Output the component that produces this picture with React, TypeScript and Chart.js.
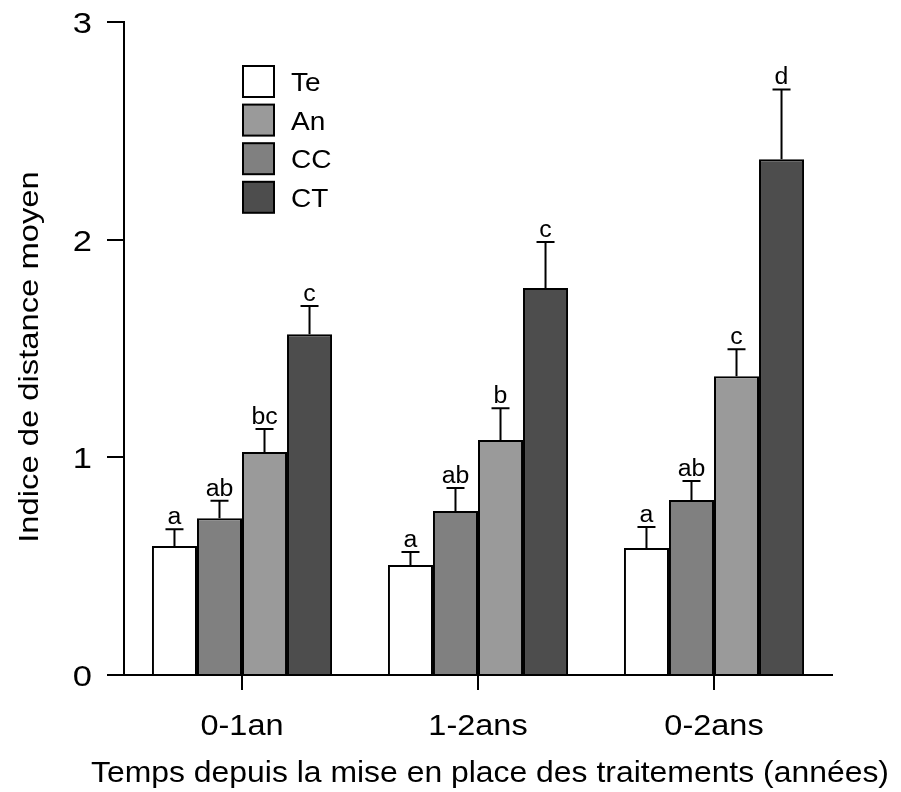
import React, { useEffect, useRef } from "react";
import { Chart, registerables } from "chart.js";

Chart.register(...registerables);

const categories = ["0-1an", "1-2ans", "0-2ans"];
const seriesNames = ["Te", "An", "CC", "CT"];
const teValues = [0.593, 0.505, 0.583];
const anValues = [0.72, 0.753, 0.804];
const ccValues = [1.024, 1.08, 1.373];
const ctValues = [1.566, 1.778, 2.37];
const teErrTop = [0.67, 0.565, 0.68];
const anErrTop = [0.80, 0.859, 0.891];
const ccErrTop = [1.13, 1.226, 1.497];
const ctErrTop = [1.695, 1.989, 2.69];
const teLetters = ["a", "a", "a"];
const anLetters = ["ab", "ab", "ab"];
const ccLetters = ["bc", "b", "c"];
const ctLetters = ["c", "c", "d"];
const yTicks = [0, 1, 2, 3];
const xTitle = "Temps depuis la mise en place des traitements (années)";
const yTitle = "Indice de distance moyen";

const barColors = ["#ffffff", "#808080", "#9a9a9a", "#4d4d4d"];
const legendColors = ["#ffffff", "#9a9a9a", "#808080", "#4d4d4d"];
const FONT = "'Liberation Sans', Arial, sans-serif";

const values = [teValues, anValues, ccValues, ctValues];
const errTops = [teErrTop, anErrTop, ccErrTop, ctErrTop];
const letters = [teLetters, anLetters, ccLetters, ctLetters];

function stretchedText(
  ctx: CanvasRenderingContext2D,
  text: string,
  x: number,
  y: number,
  size: number,
  sx: number,
  align: CanvasTextAlign,
  baseline: CanvasTextBaseline,
  rotate = false
) {
  ctx.save();
  ctx.translate(x, y);
  if (rotate) ctx.rotate(-Math.PI / 2);
  ctx.scale(sx, 1);
  ctx.font = `${size}px ${FONT}`;
  ctx.fillStyle = "#000";
  ctx.textAlign = align;
  ctx.textBaseline = baseline;
  ctx.fillText(text, 0, 0);
  ctx.restore();
}

const overlayPlugin = {
  id: "overlay",
  afterDraw(chart: any) {
    const ctx = chart.ctx;
    const y = chart.scales.y;
    const x = chart.scales.x;
    const area = chart.chartArea;
    ctx.save();
    values.forEach((_, d) => {
      const meta = chart.getDatasetMeta(d);
      meta.data.forEach((bar: any, i: number) => {
        const bx = bar.x;
        const yTop = y.getPixelForValue(values[d][i]);
        const yErr = y.getPixelForValue(errTops[d][i]);
        ctx.strokeStyle = "#000";
        ctx.lineWidth = 2;
        ctx.beginPath();
        ctx.moveTo(bx, yTop);
        ctx.lineTo(bx, yErr);
        ctx.moveTo(bx - 9, yErr);
        ctx.lineTo(bx + 9, yErr);
        ctx.stroke();
        stretchedText(ctx, letters[d][i], bx, yErr - 5, 23, 1.08, "center", "alphabetic");
      });
    });
    // legend
    const lx = 243;
    const ly = 66;
    const step = 38.6;
    seriesNames.forEach((name, k) => {
      const top = ly + k * step;
      ctx.fillStyle = legendColors[k];
      ctx.fillRect(lx, top, 31, 31);
      ctx.strokeStyle = "#000";
      ctx.lineWidth = 2;
      ctx.strokeRect(lx, top, 31, 31);
      stretchedText(ctx, name, lx + 48, top + 25, 25, 1.12, "left", "alphabetic");
    });
    // tick labels
    yTicks.forEach((v) => {
      const py = y.getPixelForValue(v);
      stretchedText(ctx, String(v), 92, py + 11, 30, 1.15, "right", "alphabetic");
    });
    categories.forEach((c, i) => {
      const px = x.getPixelForValue(i);
      stretchedText(ctx, c, px, 735, 29, 1.12, "center", "alphabetic");
    });
    // axis titles
    stretchedText(ctx, xTitle, (area.left + area.right) / 2 + 12, 782, 29, 1.1, "center", "alphabetic");
    stretchedText(ctx, yTitle, 38, 357, 28, 1.17, "center", "alphabetic", true);
    ctx.restore();
  },
};

export default function App() {
  const ref = useRef<HTMLCanvasElement>(null);
  useEffect(() => {
    if (!ref.current) return;
    const chart = new Chart(ref.current, {
      type: "bar",
      data: {
        labels: categories,
        datasets: seriesNames.map((name, d) => ({
          label: name,
          data: values[d],
          backgroundColor: barColors[d],
          borderColor: "#000",
          borderWidth: 2,
          barPercentage: 1,
          categoryPercentage: 0.763,
        })),
      },
      options: {
        animation: false,
        responsive: false,
        maintainAspectRatio: false,
        layout: { padding: { top: 22, right: 69, left: 0, bottom: 0 } },
        plugins: { legend: { display: false }, tooltip: { enabled: false } },
        scales: {
          x: {
            afterFit: (s: any) => { s.height = 117; },
            grid: {
              offset: false,
              drawOnChartArea: false,
              drawTicks: true,
              tickLength: 15,
              color: "#000",
              lineWidth: 2,
            },
            border: { display: true, color: "#000", width: 2 },
            ticks: { display: false },
          },
          y: {
            min: 0,
            max: 3,
            afterFit: (s: any) => { s.width = 124; },
            afterBuildTicks: (s: any) => { s.ticks = yTicks.map((v) => ({ value: v })); },
            grid: {
              drawOnChartArea: false,
              drawTicks: true,
              tickLength: 17,
              color: "#000",
              lineWidth: 2,
            },
            border: { display: true, color: "#000", width: 2 },
            ticks: { display: false },
          },
        },
      },
      plugins: [overlayPlugin],
    });
    return () => chart.destroy();
  }, []);
  return (
    <div style={{ position: "absolute", left: 0, top: 0, width: 901, height: 792, background: "#fff" }}>
      <canvas ref={ref} width={901} height={792} style={{ width: 901, height: 792 }} />
    </div>
  );
}
